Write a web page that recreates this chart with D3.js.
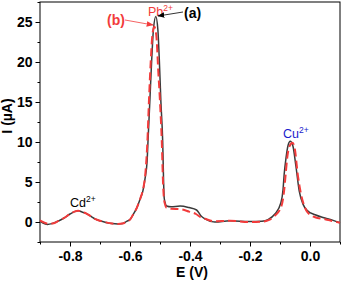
<!DOCTYPE html>
<html>
<head>
<meta charset="utf-8">
<script src="https://cdn.jsdelivr.net/npm/d3@7"></script>
<style>
  body { margin: 0; background: #fff; }
  svg { display: block; font-family: "Liberation Sans", Arial, sans-serif; }
  .tick text { font-size: 14px; font-weight: bold; fill: #000; }
</style>
</head>
<body>
<svg width="342" height="283"></svg>
<script>
// potential (V) and current (uA)
const potA = [-0.900, -0.890, -0.875, -0.860, -0.840, -0.820, -0.800, -0.785, -0.772, -0.760, -0.745, -0.730, -0.715, -0.700, -0.680, -0.660, -0.640, -0.625, -0.610, -0.600, -0.590, -0.577, -0.565, -0.557, -0.550, -0.543, -0.540, -0.534, -0.528, -0.522, -0.514, -0.507, -0.502, -0.497, -0.491, -0.488, -0.486, -0.482, -0.478, -0.463, -0.433, -0.403, -0.378, -0.363, -0.350, -0.317, -0.267, -0.200, -0.160, -0.140, -0.117, -0.097, -0.090, -0.086, -0.080, -0.073, -0.066, -0.057, -0.047, -0.036, -0.023, -0.008, 0.017, 0.050, 0.077, 0.100];
const curA = [0.1, -0.15, -0.3, -0.2, 0.1, 0.5, 1.0, 1.3, 1.4, 1.25, 1.05, 0.7, 0.35, 0.15, -0.05, -0.2, -0.25, -0.2, 0.1, 0.3, 0.9, 1.8, 3.0, 3.9, 5.4, 7.6, 10.1, 15, 20, 24, 25.7, 24, 20, 15, 10, 5, 3.0, 2.3, 2.0, 1.9, 2.0, 1.8, 1.5, 0.75, 0.4, 0.0, 0.15, 0.05, 0.1, 0.3, 1.0, 2.4, 4.0, 6.0, 8.0, 9.6, 10.1, 9.5, 7.0, 3.9, 2.2, 1.4, 0.9, 0.5, 0.2, -0.1];

const potB = [-0.900, -0.890, -0.875, -0.860, -0.840, -0.820, -0.800, -0.785, -0.772, -0.760, -0.745, -0.730, -0.715, -0.700, -0.680, -0.660, -0.640, -0.625, -0.610, -0.600, -0.590, -0.577, -0.565, -0.557, -0.550, -0.545, -0.542, -0.537, -0.531, -0.525, -0.519, -0.512, -0.506, -0.500, -0.494, -0.490, -0.487, -0.483, -0.479, -0.463, -0.433, -0.403, -0.380, -0.365, -0.350, -0.320, -0.267, -0.200, -0.160, -0.140, -0.117, -0.095, -0.086, -0.081, -0.076, -0.068, -0.058, -0.050, -0.041, -0.030, -0.018, -0.008, 0.017, 0.050, 0.077, 0.100];
const curB = [0.2, 0.0, -0.2, -0.2, 0.1, 0.5, 1.0, 1.3, 1.4, 1.25, 1.05, 0.7, 0.35, 0.15, -0.05, -0.2, -0.25, -0.2, 0.1, 0.3, 0.9, 1.8, 3.0, 4.0, 5.6, 8.0, 10.1, 15, 20, 23.5, 24.4, 23.2, 19, 15, 10, 5, 3.0, 2.2, 1.8, 1.65, 1.6, 1.3, 1.0, 0.6, 0.4, 0.1, 0.15, 0.0, 0.05, 0.2, 0.8, 2.0, 4.0, 6.0, 8.0, 9.5, 9.9, 9.0, 6.0, 3.5, 1.9, 1.2, 0.6, 0.35, 0.1, -0.1];

const xTicks = [-0.8, -0.6, -0.4, -0.2, 0.0];
const xMinor = [-0.9, -0.7, -0.5, -0.3, -0.1, 0.1];
const yTicks = [0, 5, 10, 15, 20, 25];
const yMinor = [-2.5, 2.5, 7.5, 12.5, 17.5, 22.5, 27.5];

const svg = d3.select("svg");
const m = {left: 40, right: 340, top: 2, bottom: 242};

const x = d3.scaleLinear().domain([-0.9, 0.1]).range([m.left, m.right]);
const y = d3.scaleLinear().domain([-2.5, 27.5]).range([m.bottom, m.top]);

// frame
svg.append("rect")
    .attr("x", m.left).attr("y", m.top)
    .attr("width", m.right - m.left).attr("height", m.bottom - m.top)
    .attr("fill", "none").attr("stroke", "#000").attr("stroke-width", 1);

// axes
const gx = svg.append("g").attr("transform", `translate(0,${m.bottom})`)
    .call(d3.axisBottom(x).tickValues(xTicks).tickSize(4.5).tickPadding(5)
        .tickFormat(d => d.toFixed(1)));
svg.append("g").attr("transform", `translate(0,${m.bottom})`)
    .call(d3.axisBottom(x).tickValues(xMinor).tickSize(2.5).tickFormat(""));
const gy = svg.append("g").attr("transform", `translate(${m.left},0)`)
    .call(d3.axisLeft(y).tickValues(yTicks).tickSize(4.5).tickPadding(3));
svg.append("g").attr("transform", `translate(${m.left},0)`)
    .call(d3.axisLeft(y).tickValues(yMinor).tickSize(2.5).tickFormat(""));
svg.selectAll(".domain").remove();
svg.selectAll(".tick line").attr("stroke", "#000").attr("stroke-width", 1);

// axis titles
svg.append("text")
    .attr("x", 192).attr("y", 277)
    .attr("text-anchor", "middle")
    .style("font-size", "14px").style("font-weight", "bold")
    .text("E (V)");
svg.append("text")
    .attr("transform", "translate(12,116) rotate(-90)")
    .attr("text-anchor", "middle")
    .style("font-size", "14px").style("font-weight", "bold")
    .text("I (\u00b5A)");

// curves
const line = d3.line().x(d => x(d[0])).y(d => y(d[1])).curve(d3.curveMonotoneX);

svg.append("path")
    .datum(d3.zip(potA, curA))
    .attr("d", line)
    .attr("fill", "none").attr("stroke", "#3a3a3a").attr("stroke-width", 1.5);

svg.append("path")
    .datum(d3.zip(potB, curB))
    .attr("d", line)
    .attr("fill", "none").attr("stroke", "#f23b3b").attr("stroke-width", 2)
    .attr("stroke-dasharray", "8,4");

// peak labels
function ionLabel(tx, ty, base, color) {
    const t = svg.append("text")
        .attr("x", tx).attr("y", ty)
        .attr("fill", color)
        .style("font-size", "12.5px");
    t.append("tspan").text(base);
    t.append("tspan").attr("dy", -5).style("font-size", "8.5px").text("2+");
}
ionLabel(70, 207, "Cd", "#000");
ionLabel(148, 16, "Pb", "#f23b3b");
ionLabel(283, 138, "Cu", "#1a1acc");

// markers
svg.append("defs").selectAll("marker")
    .data([["arrRed", "#f23b3b"], ["arrBlack", "#000"]])
    .enter().append("marker")
    .attr("id", d => d[0])
    .attr("viewBox", "0 0 10 10")
    .attr("refX", 9).attr("refY", 5)
    .attr("markerWidth", 7).attr("markerHeight", 7)
    .attr("markerUnits", "userSpaceOnUse")
    .attr("orient", "auto")
    .append("path").attr("d", "M0,1 L10,5 L0,9 Z").attr("fill", d => d[1]);

svg.append("line")
    .attr("x1", 125).attr("y1", 20).attr("x2", 153).attr("y2", 25)
    .attr("stroke", "#f23b3b").attr("stroke-width", 0.8)
    .attr("marker-end", "url(#arrRed)");
svg.append("line")
    .attr("x1", 183).attr("y1", 12).attr("x2", 158).attr("y2", 16)
    .attr("stroke", "#000").attr("stroke-width", 0.8)
    .attr("marker-end", "url(#arrBlack)");

svg.append("text")
    .attr("x", 107).attr("y", 25)
    .attr("fill", "#f23b3b")
    .style("font-size", "14px").style("font-weight", "bold")
    .text("(b)");
svg.append("text")
    .attr("x", 184).attr("y", 18)
    .attr("fill", "#000")
    .style("font-size", "14px").style("font-weight", "bold")
    .text("(a)");
</script>
</body>
</html>
